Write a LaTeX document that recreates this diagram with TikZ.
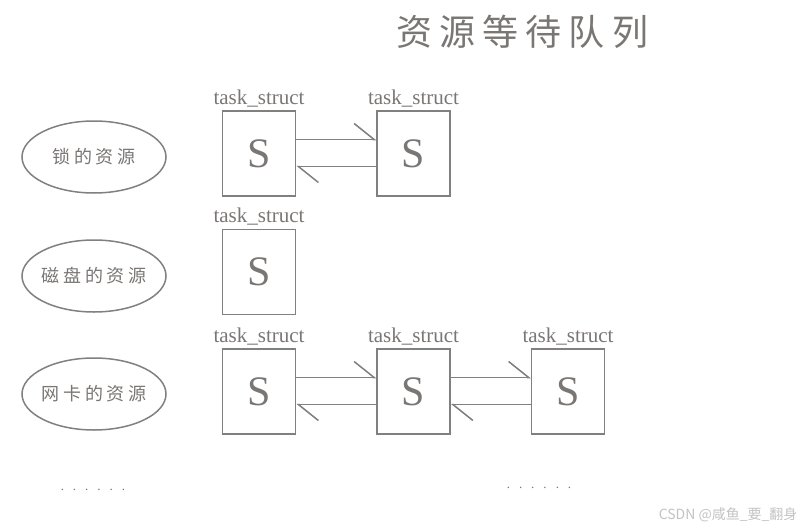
\documentclass[tikz,border=0pt]{standalone}
\usepackage{fontspec}
\setmainfont{Liberation Serif}
\usetikzlibrary{positioning,shapes.geometric,arrows.meta}
\newfontfamily\cjk[LetterSpace=20]{Noto Sans CJK SC}
\newfontfamily\markfont{Noto Sans CJK SC}
\definecolor{linegray}{RGB}{128,128,128}
\definecolor{textgray}{RGB}{122,118,116}
\definecolor{markgray}{RGB}{195,195,195}
\newcommand{\restext}[1]{\makebox[0pt]{#1}}

\begin{document}
\begin{tikzpicture}[
    x=1pt, y=-1pt,
    res/.style={ellipse, draw=linegray, line width=1.5pt, inner sep=0pt, minimum width=144pt, minimum height=72pt, text=textgray, font=\cjk\fontsize{18}{20}\selectfont},
    task/.style={rectangle, draw=linegray, line width=1.5pt, minimum width=73pt, minimum height=85pt, text=textgray, font=\fontsize{42}{42}\selectfont},
    tname/.style={text=textgray, font=\fontsize{21}{22}\selectfont, inner sep=1pt},
    link/.style={draw=linegray, line width=1.5pt, -{Straight Barb[left,length=20pt,width=32pt]}},
    dots/.style={text=textgray, font=\fontsize{13}{13}\selectfont},
    node distance=80pt
]
    \useasboundingbox[fill=white] (0,0) rectangle (806,530);

    \node[text=textgray, font=\cjk\fontsize{36}{40}\selectfont] (title) at (522,32) {资源等待队列};

    % resources
    \node[res] (lock) at (94,157) {\restext{锁的资源}};
    \node[res] (disk) at (94,276) {\restext{磁盘的资源}};
    \node[res] (nic) at (94,394) {\restext{网卡的资源}};

    % waiting tasks
    \node[task] (t11) at (259,153.5) {S};
    \node[task, right=of t11] (t12) {S};
    \node[task] (t21) at (259,272) {S};
    \node[task] (t31) at (259,391.5) {S};
    \node[task, right=of t31] (t32) {S};
    \node[task, right=of t32] (t33) {S};

    \foreach \t in {t11,t12,t21,t31,t32,t33}
        \node[tname, above=2pt of \t] (\t name) {task\_struct};

    \draw[link] ([yshift=14pt]t11.east) -- ([yshift=14pt]t12.west);
    \draw[link] ([yshift=-13pt]t12.west) -- ([yshift=-13pt]t11.east);
    \draw[link] ([yshift=14pt]t31.east) -- ([yshift=14pt]t32.west);
    \draw[link] ([yshift=-13pt]t32.west) -- ([yshift=-13pt]t31.east);
    \draw[link] ([yshift=14pt]t32.east) -- ([yshift=14pt]t33.west);
    \draw[link] ([yshift=-13pt]t33.west) -- ([yshift=-13pt]t32.east);

    \node[dots] (more1) at (93,490) {.\hspace{9pt}.\hspace{9pt}.\hspace{9pt}.\hspace{9pt}.\hspace{9pt}.};
    \node[dots] (more2) at (539,488) {.\hspace{9pt}.\hspace{9pt}.\hspace{9pt}.\hspace{9pt}.\hspace{9pt}.};

    \node[text=markgray, font=\markfont\fontsize{14}{14}\selectfont, anchor=east] (mark) at (801,515) {CSDN @咸鱼\_要\_翻身};
\end{tikzpicture}
\end{document}
